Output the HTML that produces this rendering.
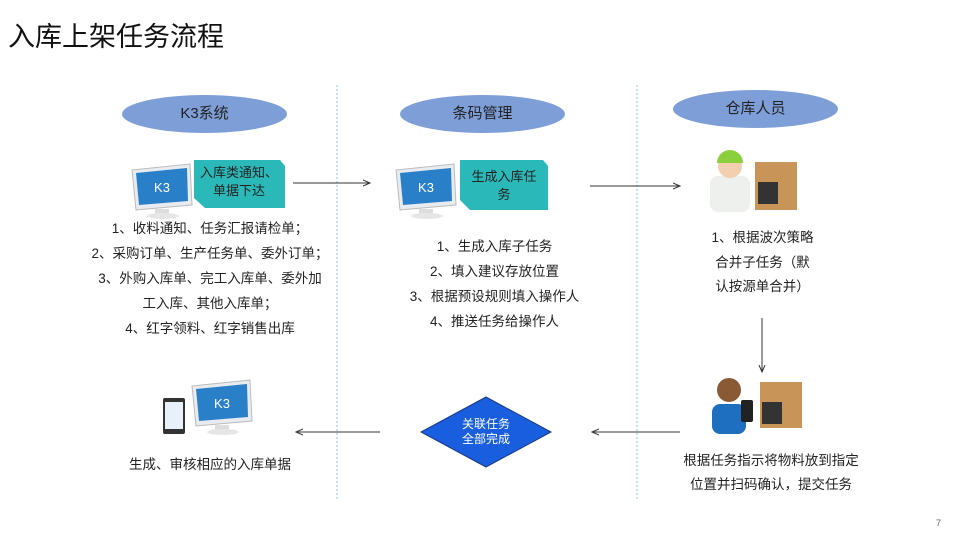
<!DOCTYPE html>
<html><head><meta charset="utf-8"><style>
body{margin:0;width:960px;height:540px;background:#fff;position:relative;overflow:hidden;font-family:"Liberation Sans","Noto Sans CJK SC",sans-serif;color:#222}
.a{position:absolute}
.t{position:absolute;font-size:13.5px;text-align:center;line-height:25px;white-space:nowrap}
.ell{position:absolute;background:#7e9ed8;border-radius:50%;text-align:center;font-size:15px;color:#222}
</style></head><body>
<div class="a" style="left:8px;top:15px;font-size:27px;color:#111">入库上架任务流程</div>
<svg class="a" style="left:0;top:0" width="960" height="540">
<defs><marker id="m" markerWidth="8" markerHeight="8" refX="7" refY="4" orient="auto"><path d="M0,1 L7,4 L0,7" fill="none" stroke="#333" stroke-width="1"/></marker></defs>
<line x1="337" y1="85" x2="337" y2="500" stroke="#8fc4e6" stroke-dasharray="2,2"/>
<line x1="637" y1="85" x2="637" y2="500" stroke="#8fc4e6" stroke-dasharray="2,2"/>
<g stroke="#333" stroke-width="1" marker-end="url(#m)">
<line x1="293" y1="183" x2="370" y2="183"/>
<line x1="590" y1="186" x2="680" y2="186"/>
<line x1="762" y1="318" x2="762" y2="372"/>
<line x1="380" y1="432" x2="296" y2="432"/>
<line x1="680" y1="432" x2="592" y2="432"/>
</g>
<polygon points="486,397 551,432 486,467 421,432" fill="#1a5ee0" stroke="#1a3a80"/>
<text x="486" y="428" font-size="12" fill="#fff" text-anchor="middle" font-family="Liberation Sans,Noto Sans CJK SC,sans-serif">关联任务</text>
<text x="486" y="443" font-size="12" fill="#fff" text-anchor="middle" font-family="Liberation Sans,Noto Sans CJK SC,sans-serif">全部完成</text>
<g id="mon">
<polygon points="132,170 190,164 192,205 136,210" fill="#e8ecf0" stroke="#bbb"/>
<polygon points="136,173 187,168 188,201 139,205" fill="#2a7fc9"/>
<text x="162" y="192" font-size="13" fill="#fff" text-anchor="middle" font-family="Liberation Sans,sans-serif">K3</text>
<rect x="155" y="209" width="14" height="6" fill="#ddd"/>
<ellipse cx="163" cy="216" rx="16" ry="3" fill="#e6e6e6"/>
</g>
<use href="#mon" x="264" y="0"/>
<use href="#mon" x="60" y="216"/>
<rect x="163" y="398" width="22" height="36" rx="2" fill="#333"/><rect x="165" y="402" width="18" height="27" fill="#e8f0fa"/>
<polygon points="194,160 280,160 285,166 285,208 205,208 194,198" fill="#2bb8b8"/>
<polygon points="460,160 543,160 548,166 548,210 470,210 460,200" fill="#2bb8b8"/>
<g id="p"><rect x="710" y="176" width="40" height="36" rx="8" fill="#eef0ee"/>
<circle cx="730" cy="166" r="12" fill="#f1cfb0"/><path d="M717,163 a13,13 0 0 1 26,0 z" fill="#8ccf3c"/></g>
<rect x="755" y="162" width="42" height="48" fill="#c89458"/><rect x="758" y="182" width="20" height="22" fill="#333"/>
<rect x="712" y="404" width="34" height="30" rx="8" fill="#1e6fc0"/><circle cx="729" cy="390" r="12" fill="#8a5a35"/>
<rect x="760" y="382" width="42" height="46" fill="#c89458"/><rect x="762" y="402" width="20" height="22" fill="#333"/>
<rect x="741" y="400" width="12" height="22" rx="2" fill="#222"/>
</svg>
<div class="ell" style="left:122px;top:95px;width:165px;height:38px;line-height:38px">K3系统</div>
<div class="ell" style="left:400px;top:95px;width:165px;height:38px;line-height:38px">条码管理</div>
<div class="ell" style="left:673px;top:90px;width:165px;height:38px;line-height:38px">仓库人员</div>
<div class="t" style="left:194px;top:164px;width:90px;line-height:18px;font-size:13px">入库类通知、<br>单据下达</div>
<div class="t" style="left:460px;top:168px;width:88px;line-height:18px;font-size:13px">生成入库任<br>务</div>
<div class="t" style="left:80px;top:216px;width:260px">1、收料通知、任务汇报请检单；<br>2、采购订单、生产任务单、委外订单；<br>3、外购入库单、完工入库单、委外加<br>工入库、其他入库单；<br>4、红字领料、红字销售出库</div>
<div class="t" style="left:382px;top:234px;width:225px">1、生成入库子任务<br>2、填入建议存放位置<br>3、根据预设规则填入操作人<br>4、推送任务给操作人</div>
<div class="t" style="left:680px;top:226px;width:165px;line-height:24.5px">1、根据波次策略<br>合并子任务（默<br>认按源单合并）</div>
<div class="t" style="left:90px;top:452px;width:240px">生成、审核相应的入库单据</div>
<div class="t" style="left:660px;top:449px;width:222px;line-height:24px">根据任务指示将物料放到指定<br>位置并扫码确认，提交任务</div>
<div class="a" style="left:936px;top:518px;font-size:9px;color:#666">7</div>
</body></html>
